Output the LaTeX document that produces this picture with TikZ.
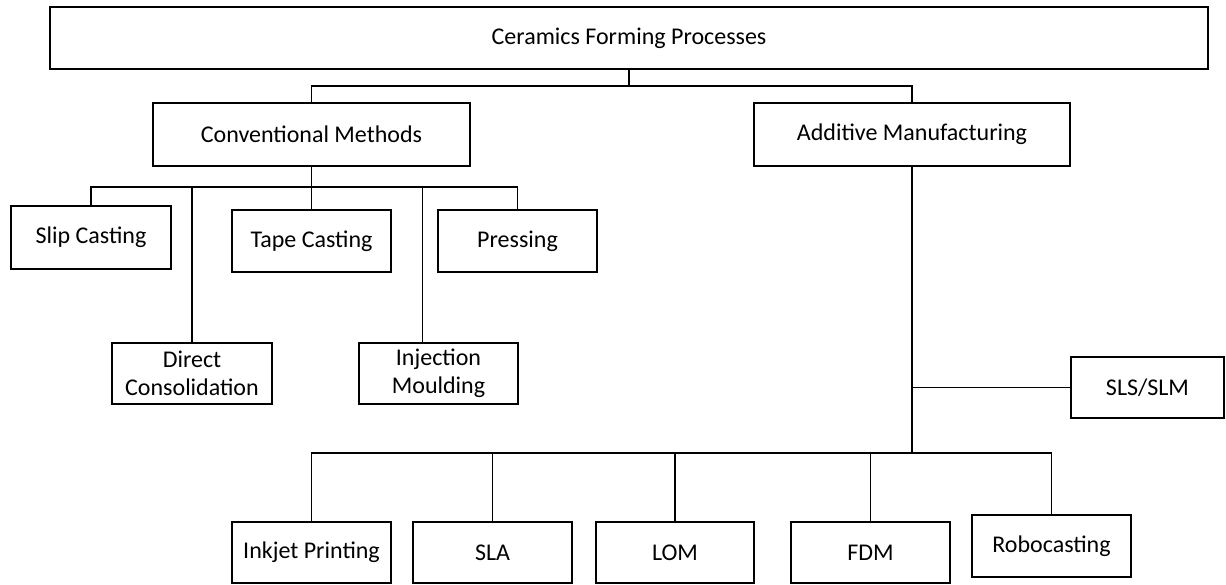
\documentclass[tikz,border=0pt]{standalone}
\usepackage{fontspec}
\setmainfont{Carlito}
\usetikzlibrary{calc}
\tikzset{
  box/.style={draw=black, line width=2.6pt, fill=white, inner sep=0pt, align=center,
              font=\fontsize{24}{28}\selectfont},
  conn/.style={draw=black, line width=1.5pt},
  thickconn/.style={draw=black, line width=2.4pt},
}
\begin{document}
\begin{tikzpicture}[x=1pt, y=-1pt]
\useasboundingbox (0,0) rectangle (1226,584);
% nodes
\node[box, minimum width=1158pt, minimum height=62pt] (top) at (629,38) {Ceramics Forming Processes};
\node[box, minimum width=317pt, minimum height=63pt] (conv) at (311.5,134.5) {Conventional Methods};
\node[box, minimum width=316pt, minimum height=63pt] (am) at (912,134.5) {Additive Manufacturing};
\node[box, minimum width=160pt, minimum height=63pt] (slip) at (91,237.5) {Slip Casting};
\node[box, minimum width=159pt, minimum height=62pt] (tape) at (311.5,241) {Tape Casting};
\node[box, minimum width=159pt, minimum height=62pt] (press) at (517.5,241) {Pressing};
\node[box, minimum width=160pt, minimum height=61pt] (direct) at (192,373.5) {Direct\\Consolidation};
\node[box, minimum width=159pt, minimum height=61pt] (inject) at (438.5,373.5) {Injection\\Moulding};
\node[box, minimum width=153pt, minimum height=61pt] (sls) at (1147.5,387.5) {SLS/SLM};
\node[box, minimum width=159pt, minimum height=61pt] (inkjet) at (311.5,552.5) {Inkjet Printing};
\node[box, minimum width=159pt, minimum height=61pt] (sla) at (492.5,552.5) {SLA};
\node[box, minimum width=158pt, minimum height=61pt] (lom) at (675,552.5) {LOM};
\node[box, minimum width=159pt, minimum height=61pt] (fdm) at (870.5,552.5) {FDM};
\node[box, minimum width=159pt, minimum height=62pt] (robo) at (1051.5,546) {Robocasting};
% bus coordinates
\coordinate (b1) at (629,86);
\coordinate (b2) at (311.5,187);
\coordinate (b3) at (912,453);
\coordinate (injtop) at ([xshift=-16pt]inject.north);
% top level
\draw[conn] (top.south) -- (b1);
\draw[conn] (conv.north) |- (b1) -| (am.north);
% conventional
\draw[conn] (conv.south) -- (b2);
\draw[conn] (slip.north) |- (b2) -| (press.north);
\draw[conn] (tape.north) -- (tape.north |- b2);
\draw[conn] (direct.north) -- (direct.north |- b2);
\draw[conn] (injtop) -- (injtop |- b2);
% additive
\draw[thickconn] (am.south) -- (b3);
\draw[conn] (sls.west) -- (sls.west -| am.south);
\draw[conn] (inkjet.north) |- (b3) -| (robo.north);
\draw[conn] (sla.north) -- (sla.north |- b3);
\draw[conn] (lom.north) -- (lom.north |- b3);
\draw[conn] (fdm.north) -- (fdm.north |- b3);
\end{tikzpicture}
\end{document}
